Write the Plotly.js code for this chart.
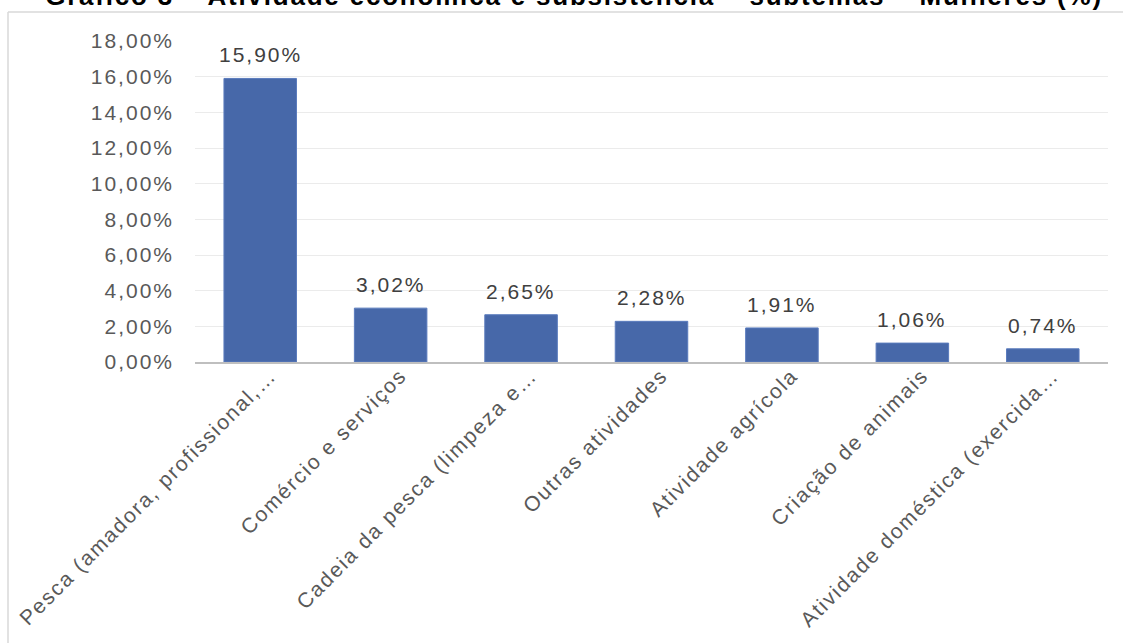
<!DOCTYPE html>
<html>
<head>
<meta charset="utf-8">
<script src="https://cdn.plot.ly/plotly-3.0.1.min.js"></script>
<style>
  html, body { margin: 0; padding: 0; background: #ffffff; }
  #chart { width: 1123px; height: 643px; }
  #chart text { letter-spacing: 2px; }
  #chart .xtick text { letter-spacing: 1.8px; }
  #chart .gtitle { letter-spacing: 1.8px; }
</style>
</head>
<body>
<div id="chart"></div>
<script>
const categories = [
  "Pesca (amadora, profissional,\u2026",
  "Comércio e serviços",
  "Cadeia da pesca (limpeza e\u2026",
  "Outras atividades",
  "Atividade agrícola",
  "Criação de animais",
  "Atividade doméstica (exercida\u2026"
];
const values = [15.90, 3.02, 2.65, 2.28, 1.91, 1.06, 0.74];
const yTickVals = [0, 2, 4, 6, 8, 10, 12, 14, 16, 18];
const titleText = "Gráfico 3 – Atividade econômica e subsistência – subtemas – Mulheres (%)";

const fmt = v => v.toFixed(2).replace('.', ',') + '%';

const trace = {
  type: 'bar',
  x: categories,
  y: values,
  marker: { color: '#4768a9', line: { color: '#5a7bbd', width: 1 } },
  hoverinfo: 'skip'
};

const annotations = categories.map((c, i) => ({
  x: c, y: values[i], xref: 'x', yref: 'y',
  text: fmt(values[i]), showarrow: false,
  yanchor: 'bottom', yshift: 10,
  font: { family: 'Liberation Sans, Arial, sans-serif', size: 21, color: '#404040' }
}));

const W = 913, H = 321, L = 195, T = 41;
const px = x => (x - L) / W;
const py = y => (T + H - y) / H;

const layout = {
  width: 1123, height: 643,
  margin: { l: L, r: 1123 - L - W, t: T, b: 643 - T - H, pad: 0 },
  paper_bgcolor: '#ffffff', plot_bgcolor: '#ffffff',
  separators: ',.',
  showlegend: false,
  bargap: 0.444,
  font: { family: 'Liberation Sans, Arial, sans-serif', size: 21, color: '#595959' },
  title: {
    text: '<b>' + titleText + '</b>',
    xref: 'container', yref: 'container',
    x: 574 / 1123, xanchor: 'center',
    y: 1 - 5 / 643, yanchor: 'bottom',
    font: { family: 'Liberation Sans, Arial, sans-serif', size: 26, color: '#000000' }
  },
  xaxis: {
    type: 'category',
    tickangle: -45,
    showline: true, linecolor: '#bfbfbf', linewidth: 2,
    showgrid: false, ticks: '', ticklabelstandoff: -9, ticklabelshift: 10,
    tickfont: { family: 'Liberation Sans, Arial, sans-serif', size: 21, color: '#595959' },
    fixedrange: true
  },
  yaxis: {
    range: [0, 18],
    tickvals: yTickVals,
    ticktext: yTickVals.map(fmt),
    showgrid: true, gridcolor: '#ebebeb', gridwidth: 1,
    zeroline: false, showline: false, ticks: '',
    ticklabelstandoff: 20,
    tickfont: { family: 'Liberation Sans, Arial, sans-serif', size: 21, color: '#595959' },
    fixedrange: true
  },
  annotations: annotations,
  shapes: [
    { type: 'line', xref: 'paper', yref: 'paper', x0: px(8), x1: px(8), y0: py(12), y1: py(660),
      line: { color: '#d9d9d9', width: 1.5 }, layer: 'below' },
    { type: 'line', xref: 'paper', yref: 'paper', x0: px(8), x1: px(1140), y0: py(12), y1: py(12),
      line: { color: '#d9d9d9', width: 1.5 }, layer: 'below' }
  ]
};

Plotly.newPlot('chart', [trace], layout, { displayModeBar: false, staticPlot: true });
</script>
</body>
</html>
